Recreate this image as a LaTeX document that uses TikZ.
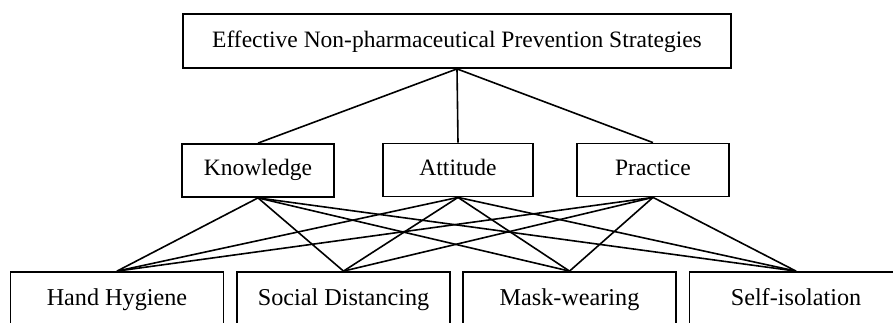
\documentclass[tikz,border=0pt]{standalone}
\usepackage{fontspec}
\setmainfont{Liberation Serif}
\begin{document}
\begin{tikzpicture}[x=1pt,y=-1pt,
  box/.style={draw=black,line width=1.8pt,rectangle,inner sep=0pt,text height=16.5pt,text depth=6pt,font=\fontsize{23.5}{28}\selectfont,text=black},
  low/.style={box,font=\fontsize{24.2}{28}\selectfont,minimum width=213pt,minimum height=58pt,text height=17pt,text depth=9pt},
  link/.style={draw=black,line width=1.6pt}]
\useasboundingbox (0,0) rectangle (893,322);
\clip (0,0) rectangle (893,322);
\fill[white] (0,0) rectangle (893,322);
\node[box,minimum width=548pt,minimum height=54pt,text height=17pt,text depth=5pt] (top) at (457,41) {Effective Non-pharmaceutical Prevention Strategies};
\node[box,minimum width=152pt,minimum height=53pt] (know) at (258,170.5) {Knowledge};
\node[box,minimum width=150pt,minimum height=53pt] (att) at (458,170) {Attitude};
\node[box,minimum width=152pt,minimum height=53pt] (prac) at (653,170) {Practice};
\node[low] (hand) at (117,301) {Hand Hygiene};
\node[low] (soc) at (343.5,301) {Social Distancing};
\node[low] (mask) at (569.5,301) {Mask-wearing};
\node[low] (self) at (796,301) {Self-isolation};
\foreach \m in {know,att,prac} {
  \draw[link] (top.south) -- (\m.north);
  \foreach \b in {hand,soc,mask,self} {
    \draw[link] (\m.south) -- (\b.north);
  }
}
\end{tikzpicture}
\end{document}
